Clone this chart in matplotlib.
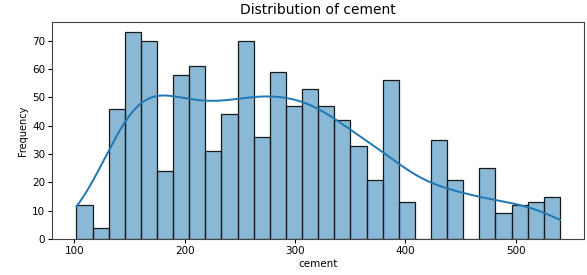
import matplotlib
matplotlib.use('Agg')
import matplotlib.pyplot as plt
import numpy as np

# histogram of cement, 30 bins over data range
cement_min = 102.0
cement_max = 540.0
counts = [12, 4, 46, 73, 70, 24, 58, 61, 31, 44, 70, 36, 59, 47, 53,
          47, 42, 33, 21, 56, 13, 0, 35, 21, 0, 25, 9, 12, 13, 15]

edges = np.linspace(cement_min, cement_max, len(counts) + 1)
centers = (edges[:-1] + edges[1:]) / 2
width = edges[1] - edges[0]

# weighted gaussian kde built from the binned counts
w = np.array(counts, dtype=float)
n = w.sum()
mean = (w * centers).sum() / n
std = np.sqrt((w * (centers - mean) ** 2).sum() / n)
bw = 1.12 * std * n ** (-1 / 5)
grid = np.linspace(cement_min, cement_max, 300)
dens = (w[None, :] * np.exp(-0.5 * ((grid[:, None] - centers[None, :]) / bw) ** 2)).sum(1)
dens = dens / (n * bw * np.sqrt(2 * np.pi))
kde_y = dens * n * width

fig, ax = plt.subplots(figsize=(5.87, 2.75), dpi=100)
fig.subplots_adjust(left=0.089, right=0.995, bottom=0.131, top=0.92)

blue = '#1f77b4'
ax.bar(edges[:-1], counts, width=width, align='edge',
       facecolor=(0.122, 0.467, 0.706, 0.52), edgecolor='#1a1a1a', linewidth=0.9)
ax.plot(grid, kde_y, color=blue, linewidth=1.4)

ax.set_title('Distribution of cement', fontsize=10)
ax.set_xlabel('cement', fontsize=7.5, labelpad=2)
ax.set_ylabel('Frequency', fontsize=7, labelpad=3)
ax.tick_params(labelsize=7.5, length=3, pad=2)
ax.set_xticks([100, 200, 300, 400, 500])
ax.set_yticks(range(0, 80, 10))
for s in ax.spines.values():
    s.set_linewidth(0.8)
    s.set_color('#444444')

plt.savefig('out.png', dpi=100)
plt.close()
